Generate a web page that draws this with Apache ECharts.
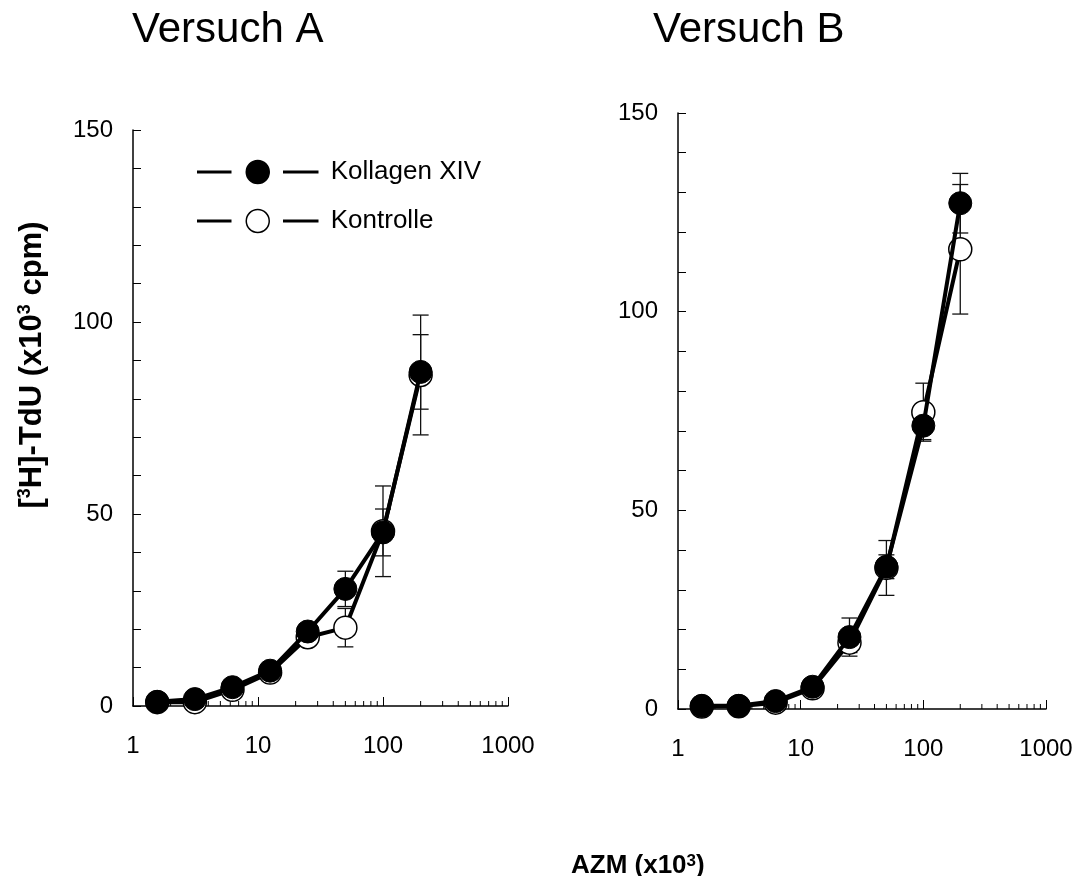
<!DOCTYPE html>
<html>
<head>
<meta charset="utf-8">
<script src="https://cdn.jsdelivr.net/npm/echarts@6/dist/echarts.min.js"></script>
<style>
html,body{margin:0;padding:0;background:#fff;}
#chart{width:1079px;height:876px;}
</style>
</head>
<body>
<div id="chart"></div>
<script>
// ---- data ----
const concentrations = [1.5625, 3.125, 6.25, 12.5, 25, 50, 100, 200];

const versuchA_kollagen     = [1.1, 1.8, 4.9, 9.2, 19.4, 30.5, 45.2, 87.0];
const versuchA_kollagen_err = [0.4, 0.5, 0.8, 1.2, 1.5, 4.6, 6.1, 9.7];
const versuchA_kontrolle     = [1.0, 1.0, 4.2, 8.7, 17.9, 20.4, 45.5, 86.2];
const versuchA_kontrolle_err = [0.3, 0.4, 0.7, 1.0, 1.5, 5.0, 11.8, 15.6];

const versuchB_kollagen     = [0.8, 0.8, 2.0, 5.6, 18.1, 35.8, 71.3, 127.3];
const versuchB_kollagen_err = [0.3, 0.3, 0.5, 0.8, 4.8, 3.0, 3.5, 7.5];
const versuchB_kontrolle     = [0.6, 0.7, 1.6, 5.2, 16.7, 35.5, 74.7, 115.7];
const versuchB_kontrolle_err = [0.3, 0.3, 0.5, 0.8, 2.5, 6.9, 7.3, 16.3];

const minorLogTicks = [2,3,4,5,6,7,8,9,20,30,40,50,60,70,80,90,200,300,400,500,600,700,800,900];
const seriesNames = ['Kollagen XIV', 'Kontrolle'];
const titles = ['Versuch A', 'Versuch B'];
const yAxisTitle = '[{s|3}H]-TdU (x10{s|3} cpm)';
const xAxisTitle = 'AZM (x10{s|3})';

// ---- helpers ----
const FONT = "'Liberation Sans', Arial, sans-serif";
function pairs(xs, ys) { return xs.map((x, i) => [x, ys[i]]); }
function triples(xs, ys, es) { return xs.map((x, i) => [x, ys[i], es[i]]); }

function errRender(params, api) {
  const x = api.value(0), y = api.value(1), e = api.value(2);
  const top = api.coord([x, y + e]);
  const bot = api.coord([x, y - e]);
  const hw = 8;
  const st = { stroke: '#111', lineWidth: 1.3 };
  return {
    type: 'group',
    children: [
      { type: 'line', shape: { x1: top[0], y1: top[1], x2: bot[0], y2: bot[1] }, style: st },
      { type: 'line', shape: { x1: top[0] - hw, y1: top[1], x2: top[0] + hw, y2: top[1] }, style: st },
      { type: 'line', shape: { x1: bot[0] - hw, y1: bot[1], x2: bot[0] + hw, y2: bot[1] }, style: st }
    ]
  };
}
function minorTickRender(params, api) {
  const p = api.coord([api.value(0), 0]);
  return { type: 'line', shape: { x1: p[0], y1: p[1], x2: p[0], y2: p[1] - 5 },
           style: { stroke: '#000', lineWidth: 1 } };
}

function xAxisDef(gi) {
  return {
    type: 'log', logBase: 10, min: 1, max: 1000, gridIndex: gi,
    axisLine: { lineStyle: { color: '#000', width: 1.5 } },
    axisTick: { inside: true, length: 9, lineStyle: { color: '#000', width: 1 } },
    axisLabel: { color: '#000', fontSize: 24, fontFamily: FONT, margin: 28,
                 formatter: v => String(Math.round(v)) },
    splitLine: { show: false }
  };
}
function yAxisDef(gi) {
  return {
    type: 'value', min: 0, max: 150, interval: 50, gridIndex: gi,
    axisLine: { show: true, lineStyle: { color: '#000', width: 1.5 } },
    axisTick: { show: true, inside: true, length: 8, lineStyle: { color: '#000', width: 1 } },
    minorTick: { show: true, splitNumber: 5, length: 8, lineStyle: { color: '#000', width: 1 } },
    axisLabel: { color: '#000', fontSize: 24, fontFamily: FONT, margin: 20 },
    splitLine: { show: false }
  };
}

function seriesFor(gi, kol, kolErr, kon, konErr) {
  return [
    { name: 'errKon' + gi, type: 'custom', xAxisIndex: gi, yAxisIndex: gi, renderItem: errRender,
      data: triples(concentrations, kon, konErr), encode: { x: 0, y: 1 }, z: 1, silent: true },
    { name: 'errKol' + gi, type: 'custom', xAxisIndex: gi, yAxisIndex: gi, renderItem: errRender,
      data: triples(concentrations, kol, kolErr), encode: { x: 0, y: 1 }, z: 1, silent: true },
    { name: 'minor' + gi, type: 'custom', xAxisIndex: gi, yAxisIndex: gi, renderItem: minorTickRender,
      data: minorLogTicks.map(v => [v, 0]), encode: { x: 0, y: 1 }, z: 1, silent: true, clip: false },
    { name: seriesNames[1], type: 'line', xAxisIndex: gi, yAxisIndex: gi,
      data: pairs(concentrations, kon), symbol: 'circle', symbolSize: 23,
      lineStyle: { color: '#000', width: 4 },
      itemStyle: { color: '#fff', borderColor: '#000', borderWidth: 1.5 },
      z: 3, animation: false },
    { name: seriesNames[0], type: 'line', xAxisIndex: gi, yAxisIndex: gi,
      data: pairs(concentrations, kol), symbol: 'circle', symbolSize: 23,
      lineStyle: { color: '#000', width: 4 },
      itemStyle: { color: '#000', borderColor: '#000', borderWidth: 1 },
      z: 4, animation: false }
  ];
}

// legend icon: line — circle — line (with gaps)
const legendIcon = 'path://M0,11.25h33v1.5h-33z M48.5,12a11.5,11.5 0 1,0 23,0a11.5,11.5 0 1,0 -23,0z M86,11.25h34v1.5h-34z';
const supStyle = { fontSize: 18, fontWeight: 'bold', fontFamily: FONT, verticalAlign: 'top', fill: '#000', color: '#000' };

const chart = echarts.init(document.getElementById('chart'), null, { renderer: 'canvas' });
chart.setOption({
  animation: false,
  backgroundColor: '#fff',
  textStyle: { fontFamily: FONT },
  title: [
    { text: titles[0], left: 127, top: 4, textStyle: { fontSize: 42, fontWeight: 'normal', color: '#000', fontFamily: FONT } },
    { text: titles[1], left: 648, top: 4, textStyle: { fontSize: 42, fontWeight: 'normal', color: '#000', fontFamily: FONT } },
    { text: xAxisTitle, left: 566, top: 848,
      textStyle: { fontSize: 26, fontWeight: 'bold', color: '#000', fontFamily: FONT,
        rich: { s: { fontSize: 17, fontWeight: 'bold', verticalAlign: 'top', color: '#000', fontFamily: FONT } } } }
  ],
  graphic: [
    { type: 'text', x: 32, y: 365, rotation: Math.PI / 2, silent: true,
      style: { text: yAxisTitle, fontSize: 31, fontWeight: 'bold', fontFamily: FONT, fill: '#000',
               align: 'center', verticalAlign: 'middle',
               rich: { s: supStyle } } }
  ],
  legend: {
    data: [
      { name: seriesNames[0], icon: legendIcon, itemStyle: { color: '#000', borderColor: '#000', borderWidth: 1.5 } },
      { name: seriesNames[1], icon: legendIcon, itemStyle: { color: '#fff', borderColor: '#000', borderWidth: 1.5 } }
    ],
    orient: 'vertical',
    left: 197, top: 159, padding: 0,
    itemWidth: 120, itemHeight: 23, itemGap: 23,
    textStyle: { fontSize: 26, color: '#000', fontFamily: FONT, padding: [0, 0, 0, 8] },
    selectedMode: false
  },
  grid: [
    { left: 133, top: 130, width: 375, height: 576 },
    { left: 678, top: 113, width: 368, height: 596 }
  ],
  xAxis: [xAxisDef(0), xAxisDef(1)],
  yAxis: [yAxisDef(0), yAxisDef(1)],
  series: [].concat(
    seriesFor(0, versuchA_kollagen, versuchA_kollagen_err, versuchA_kontrolle, versuchA_kontrolle_err),
    seriesFor(1, versuchB_kollagen, versuchB_kollagen_err, versuchB_kontrolle, versuchB_kontrolle_err)
  )
});
</script>
</body>
</html>
